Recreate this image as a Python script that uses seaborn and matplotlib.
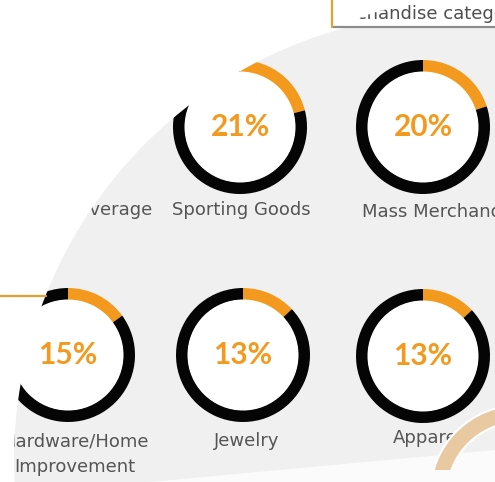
import matplotlib
matplotlib.use("Agg")
import numpy as np
import matplotlib.pyplot as plt
import matplotlib.patches as mpatches
from matplotlib.path import Path
import seaborn as sns

# -----------------------------
# Data
# -----------------------------
categories = ["Sporting Goods", "Mass Merchandise", "Hardware/Home\nImprovement", "Jewelry", "Apparel"]
shares = [21, 20, 15, 13, 13]
hidden_label = "Beverage"          # its donut sits under the white overlay
header_text = "Merchandise categories"

# -----------------------------
# Layout (pixel coords on a 495x482 canvas, y grows downwards)
# -----------------------------
centers = [(240, 127), (423, 127), (68, 355), (243, 355), (423, 356)]
label_pos = [(241, 210), (445, 212), (75, 454), (247, 441), (428, 438)]

ORANGE = "#f39a1e"
RING_BLACK = "#050505"
GREY_BG = "#f0f0f0"
TEXT_GREY = "#555555"
W, H = 495, 482
DISC_C, DISC_R = (463, 461), 449

sns.set_theme(style="white")
plt.rcParams["font.family"] = ["DejaVu Sans"]

fig = plt.figure(figsize=(4.95, 4.82), dpi=100)
ax = fig.add_axes([0, 0, 1, 1])

# grey panel behind the donuts
ax.add_patch(mpatches.Rectangle((0, 0), W, H, facecolor=GREY_BG, edgecolor="none", zorder=0))

# -----------------------------
# Donuts
# -----------------------------
for (cx, cy), share in zip(centers, shares):
    wedges, _ = ax.pie(
        [share, 100 - share],
        colors=[ORANGE, RING_BLACK],
        radius=67,
        center=(cx, cy),
        startangle=-90,
        counterclock=True,
        wedgeprops=dict(width=12, linewidth=0),
    )
    for w in wedges:
        w.set_zorder(2)
    ax.add_patch(mpatches.Circle((cx, cy), 55.5, facecolor="white", edgecolor="none", zorder=2))
    ax.text(cx, cy, f"{share}%", ha="center", va="center", fontsize=21.5,
            fontweight="bold", family=["Lato", "DejaVu Sans"], color=ORANGE, zorder=3)

for (lx, ly), name in zip(label_pos, categories):
    ax.text(lx, ly, name, ha="center", va="center", fontsize=13,
            color=TEXT_GREY, linespacing=1.5, zorder=3)

ax.text(109, 210, hidden_label, ha="center", va="center", fontsize=13,
        color=TEXT_GREY, zorder=3)

# soft white band at the bottom right
ax.add_patch(mpatches.Polygon([(150, H), (W, 450), (W, H)], closed=True,
                              facecolor="white", edgecolor="none", alpha=0.75, zorder=4))

# white overlay: whole canvas minus the big disc (sweeping curve on the left)
t = np.linspace(0, 2 * np.pi, 600)
disc = np.column_stack([DISC_C[0] + DISC_R * np.cos(t), DISC_C[1] + DISC_R * np.sin(t)])
frame = np.array([(-5, -5), (-5, H + 5), (W + 5, H + 5), (W + 5, -5), (-5, -5)])
verts = np.vstack([frame, disc])
codes = ([Path.MOVETO] + [Path.LINETO] * 3 + [Path.CLOSEPOLY]
         + [Path.MOVETO] + [Path.LINETO] * (len(disc) - 2) + [Path.CLOSEPOLY])
ax.add_patch(mpatches.PathPatch(Path(verts, codes), facecolor="white", edgecolor="none", zorder=5))

# tan decorative arc, bottom right
arc = mpatches.Wedge((520, 495), 90, 180, 270, width=17, facecolor="#e8c9a2",
                     edgecolor="white", linewidth=1.5, zorder=6)
ax.add_patch(arc)
arc.set_clip_path(mpatches.Rectangle((0, 0), W, 470, transform=ax.transData))

# -----------------------------
# Header strip
# -----------------------------
ax.add_patch(mpatches.Rectangle((0, 0), W, 28, facecolor="white", edgecolor="none", zorder=6))
ax.text(323, 14, header_text, ha="left", va="center", fontsize=13,
        color="#4e4e4e", zorder=7)
# white curl hiding the start of the header text
curl = Path([(-1, 27), (345, 27), (368, 6), (460, -1), (-1, -1), (-1, 27)],
            [Path.MOVETO, Path.LINETO, Path.CURVE3, Path.CURVE3, Path.LINETO, Path.CLOSEPOLY])
ax.add_patch(mpatches.PathPatch(curl, facecolor="white", edgecolor="none", zorder=8))
ax.plot([333, W], [27, 27], color="#8c8c8c", lw=1.6, zorder=9, solid_capstyle="butt")
ax.plot([332, 332], [0, 27], color="#e2a22f", lw=1.6, zorder=9)

# orange rule at left
ax.plot([0, 46], [296, 296], color="#e2a22f", lw=1.6, zorder=9)

ax.set_xlim(0, W)
ax.set_ylim(H, 0)
ax.set_aspect("equal")
ax.axis("off")

plt.savefig("out.png", dpi=100, facecolor="white")
plt.close()
